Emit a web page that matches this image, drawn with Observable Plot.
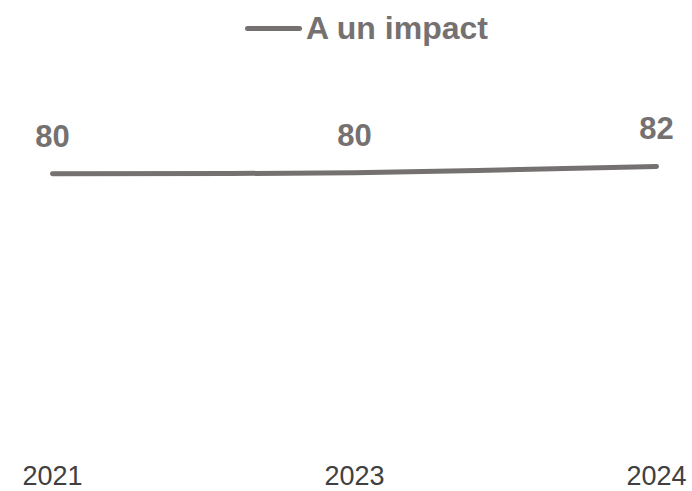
<!DOCTYPE html>
<html>
<head>
<meta charset="utf-8">
<script src="https://cdn.jsdelivr.net/npm/d3@7"></script>
<script src="https://cdn.jsdelivr.net/npm/@observablehq/plot@0.6"></script>
<style>
  body { margin: 0; background: #fff; font-family: "Liberation Sans", Arial, sans-serif; }
  #legend { height: 50px; display: flex; align-items: center; padding-left: 245px; padding-top: 6px; box-sizing: border-box; }
  #legend .sw { width: 57px; height: 5px; border-radius: 3px; background: #767171; margin-right: 4px; }
  #legend .lb { font-weight: bold; font-size: 32px; color: #767171; line-height: 1; }
</style>
</head>
<body>
<div id="legend"><span class="sw"></span><span class="lb"></span></div>
<div id="chart"></div>
<script>
const seriesName = "A un impact";
const years = ["2021", "2023", "2024"];
const values = [80, 80.3, 82];

document.querySelector("#legend .lb").textContent = seriesName;

const data = years.map((y, i) => ({year: y, value: values[i]}));

const chart = Plot.plot({
  width: 692,
  height: 441,
  marginLeft: 51,
  marginRight: 35.5,
  marginTop: 50.3,
  marginBottom: 25.7,
  style: {fontFamily: "'Liberation Sans', Arial, sans-serif", color: "#404040", background: "#fff", overflow: "visible"},
  x: {type: "point", domain: years, padding: 0, label: null},
  y: {domain: [0, 100], axis: null},
  marks: [
    Plot.axisX({tickSize: 0, tickPadding: 0, fontSize: 27, label: null}),
    Plot.line(data, {x: "year", y: "value", stroke: "#767171", strokeWidth: 5, strokeLinecap: "round", curve: "catmull-rom"}),
    Plot.text(data, {x: "year", y: "value", text: d => String(Math.round(d.value)), dy: -37, fontSize: 31, fontWeight: "bold", fill: "#767171"})
  ]
});
document.getElementById("chart").appendChild(chart);
</script>
</body>
</html>
